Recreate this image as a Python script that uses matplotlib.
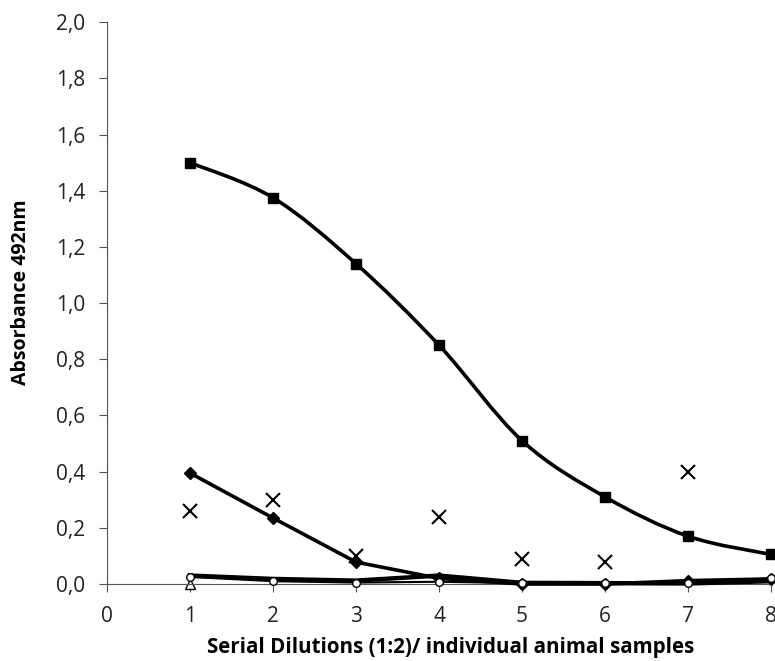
import numpy as np
import matplotlib.pyplot as plt
from matplotlib.path import Path
from matplotlib.patches import PathPatch
from matplotlib.ticker import FuncFormatter

plt.rcParams["font.family"] = ["Open Sans", "DejaVu Sans"]

# dilution steps
dilutions = [1, 2, 3, 4, 5, 6, 7, 8]

# pooled serum (squares, smoothed curve)
squares = [1.50, 1.375, 1.14, 0.85, 0.51, 0.31, 0.17, 0.105]
# diamonds
diamonds = [0.395, 0.235, 0.078, 0.02, 0.0, 0.0, 0.012, 0.018]
# individual animals (crosses, no line)
crosses = [0.26, 0.30, 0.10, 0.24, 0.088, 0.08, 0.40]
# open circles
circles = [0.025, 0.01, 0.005, 0.008, 0.003, 0.004, 0.003, 0.02]
# second low series (thick line, no marker)
low_line = [0.03, 0.018, 0.012, 0.03, 0.004, 0.003, 0.002, 0.01]
# open triangle
triangle_x = [1]
triangle_y = [0.0]


def smooth_path(xs, ys, tension=1 / 6):
    # Catmull-Rom style bezier through the points, like a spreadsheet "smoothed line"
    pts = np.column_stack([xs, ys])
    verts = [pts[0]]
    codes = [Path.MOVETO]
    for i in range(len(pts) - 1):
        p0 = pts[i - 1] if i > 0 else pts[i]
        p1 = pts[i]
        p2 = pts[i + 1]
        p3 = pts[i + 2] if i + 2 < len(pts) else pts[i + 1]
        c1 = p1 + (p2 - p0) * tension
        c2 = p2 - (p3 - p1) * tension
        verts += [c1, c2, p2]
        codes += [Path.CURVE4] * 3
    return Path(verts, codes)


fig = plt.figure(figsize=(7.75, 6.61), dpi=100)
ax = fig.add_axes([0.138, 0.1165, 0.857, 0.85])

ax.add_patch(PathPatch(smooth_path(dilutions, squares), fill=False,
                       lw=2.6, color="black", clip_on=False, zorder=3))
ax.plot(dilutions, squares, ls="none", marker="s", ms=7.5, color="black",
        clip_on=False, zorder=4)

ax.plot(dilutions, low_line, color="black", lw=3.2, clip_on=False, zorder=3)
ax.plot(dilutions, diamonds, color="black", lw=2.6, marker="D", ms=6.5,
        clip_on=False, zorder=4)
ax.plot(dilutions, circles, color="black", lw=1.5, marker="o", ms=5.5,
        mfc="white", mew=1, clip_on=False, zorder=5)
ax.plot(triangle_x, triangle_y, ls="none", marker="^", ms=7, mfc="white",
        mec="black", mew=1, clip_on=False, zorder=2)
ax.plot(dilutions[:len(crosses)], crosses, ls="none", marker="x", ms=10.5,
        mew=1.5, color="black", clip_on=False, zorder=4)

ax.set_xlim(0, 8)
ax.set_ylim(0, 2.0)
ax.set_xticks(range(0, 9))
ax.set_yticks(np.arange(0, 2.01, 0.2))
ax.yaxis.set_major_formatter(FuncFormatter(lambda v, p: f"{v:.1f}".replace(".", ",")))

for s in ["top", "right"]:
    ax.spines[s].set_visible(False)
ax.spines["left"].set_color("#555555")
ax.spines["bottom"].set_color("#555555")
ax.tick_params(axis="both", direction="out", length=5.5, color="#555555",
               labelsize=15, labelcolor="#222222")
ax.tick_params(axis="x", pad=10)
ax.tick_params(axis="y", pad=10)

fig.text(451 / 775, 1 - 648 / 661, "Serial Dilutions (1:2)/ individual animal samples",
         fontsize=14.8, fontweight="bold", ha="center", va="center")
fig.text(21 / 775, 1 - 292 / 661, "Absorbance 492nm", rotation=90,
         fontsize=14, fontweight="bold", ha="center", va="center")

fig.savefig("out.png", dpi=100)
